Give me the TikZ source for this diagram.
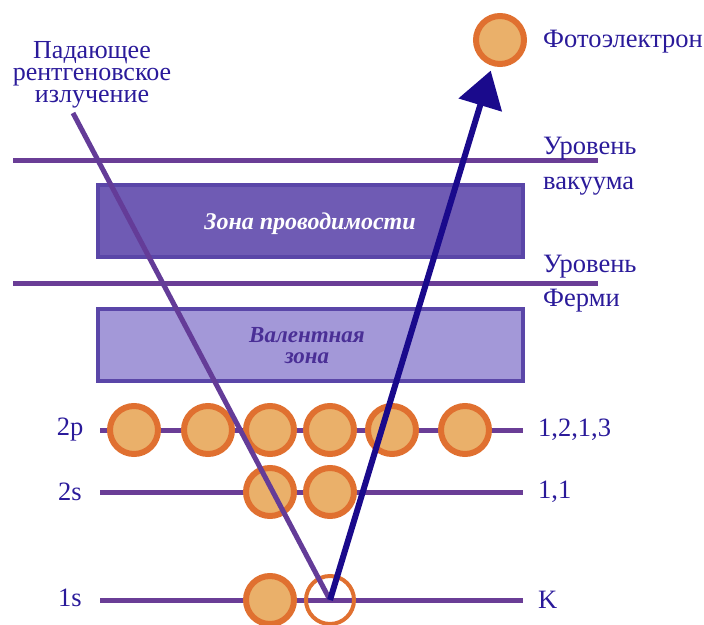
\documentclass[tikz,border=0pt]{standalone}
\usepackage{fontspec}
\setmainfont{Liberation Serif}
\usetikzlibrary{arrows.meta}
\definecolor{lvl}{HTML}{6A3D96}
\definecolor{ray}{HTML}{643C98}
\definecolor{outray}{HTML}{1A0A8C}
\definecolor{efill}{HTML}{EAB06A}
\definecolor{edge}{HTML}{E07030}
\definecolor{cbfill}{HTML}{6F5BB4}
\definecolor{bandedge}{HTML}{5A46A8}
\definecolor{vbfill}{HTML}{A398D8}
\definecolor{txt}{HTML}{2A1A9A}
\definecolor{vtxt}{HTML}{4A2F96}
\tikzset{
  level/.style={draw=lvl, line width=5pt},
  electron/.style={circle, draw=edge, fill=efill, line width=6pt, minimum size=48pt, inner sep=0pt},
  hole/.style={circle, draw=edge, line width=4pt, minimum size=48pt, inner sep=0pt},
  band/.style={draw=bandedge, line width=4pt, inner sep=0pt},
  lbl/.style={text=txt, font=\fontsize{26.5}{26.5}\selectfont, inner sep=0pt},
  rlbl/.style={lbl, anchor=west},
}
\begin{document}
\begin{tikzpicture}[x=1pt,y=-1pt]
\useasboundingbox (0,0) rectangle (704,624);
% level lines
\draw[level] (13,160) coordinate (vacL) -- (598,160) coordinate (vacR);
\draw[level] (13,283) coordinate (ferL) -- (598,283) coordinate (ferR);
\draw[level] (100,430) coordinate (p2L) -- (523,430) coordinate (p2R);
\draw[level] (100,492) coordinate (s2L) -- (523,492) coordinate (s2R);
\draw[level] (100,600) coordinate (s1L) -- (523,600) coordinate (s1R);
% bands
\node[band, fill=cbfill, minimum width=425pt, minimum height=72pt] (cb) at (310,221) {};
\node[text=white, font=\fontsize{24}{24}\selectfont\bfseries\itshape] (cbt) at (310,224) {Зона проводимости};
\node[band, fill=vbfill, minimum width=425pt, minimum height=72pt] (vb) at (310,345) {};
\node[text=vtxt, font=\fontsize{23}{21}\selectfont\bfseries\itshape, align=center, inner sep=0pt] (vbt) at (307,346) {Валентная\\зона};
% electrons
\node[electron] (e1) at (134,430) {};
\node[electron] (e2) at (208,430) {};
\node[electron] (e3) at (270,430) {};
\node[electron] (e4) at (330,430) {};
\node[electron] (e5) at (392,430) {};
\node[electron] (e6) at (465,430) {};
\node[electron] (f1) at (270,492) {};
\node[electron] (f2) at (330,492) {};
\node[electron] (g1) at (270,600) {};
\node[hole] (h) at (330,600) {};
\node[electron] (pe) at (500,40) {};
% labels
\node[lbl] (l2p) at (70,430) {2p};
\node[lbl] (l2s) at (70,492) {2s};
\node[lbl] (l1s) at (70,598) {1s};
\node[rlbl] (r2p) at (538,430) {1,2,1,3};
\node[rlbl] (r2s) at (538,492) {1,1};
\node[rlbl] (r1s) at (538,600) {K};
\node[rlbl, align=left, font=\fontsize{26.5}{35}\selectfont] (vac) at (543,166) {Уровень\\вакуума};
\node[rlbl, align=left, font=\fontsize{26.5}{34}\selectfont] (fer) at (543,284) {Уровень\\Ферми};
\node[rlbl] (pet) at (543,42) {Фотоэлектрон};
\node[lbl, align=center, font=\fontsize{26}{22}\selectfont] (inc) at (92,75) {Падающее\\рентгеновское\\излучение};
% rays
\coordinate (xin) at (73,113);
\draw[ray, line width=5pt] (xin) -- (h.center);
\draw[outray, line width=6pt, -{Triangle[length=36pt,width=44pt]}, shorten >=5pt] (h.center) -- (pe);
\end{tikzpicture}
\end{document}
